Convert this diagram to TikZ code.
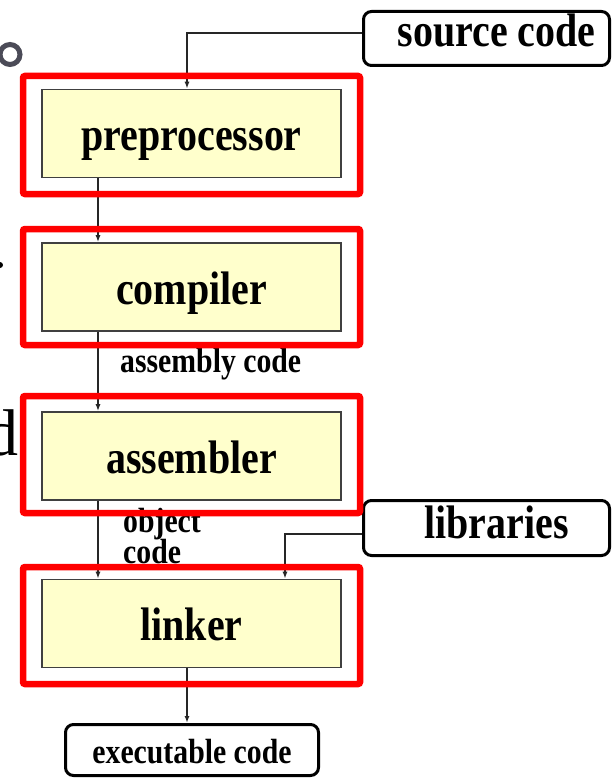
\documentclass[tikz,border=0pt]{standalone}
\usepackage{fontspec}
\setmainfont{Liberation Serif}
\usepackage{graphicx}
\usetikzlibrary{arrows.meta}
\definecolor{stagefill}{HTML}{FFFFCC}
\definecolor{fraggray}{HTML}{4B4B57}
\definecolor{framered}{HTML}{FF0000}
\newcommand{\narrowtxt}[1]{\scalebox{0.85}[1]{#1}}
\begin{document}
\begin{tikzpicture}[x=1pt,y=-1pt,
  big/.style={font=\bfseries\fontsize{47}{50}\selectfont},
  small/.style={font=\bfseries\fontsize{35}{38}\selectfont, inner sep=0pt},
  stage/.style={draw=black!75, line width=1.6pt, fill=stagefill,
    minimum width=299pt, minimum height=88pt, inner sep=0pt,
    text height=34pt, text depth=0pt, big},
  term/.style={draw=black, line width=3pt, rounded corners=8pt, fill=white,
    inner sep=0pt, big},
  frame/.style={draw=framered, line width=6.5pt, rounded corners=2pt},
  conn/.style={draw=black!85, line width=1.4pt, -{Latex[length=7pt,width=5pt]}},
]
\useasboundingbox (0,0) rectangle (613,778);
\clip (0,0) rectangle (613,778);
\fill[white] (0,0) rectangle (613,778);

% fragments of background slide text at the left edge
\draw[fraggray, line width=5pt] (10,54.5) circle (10pt);
\fill[black] (0,265) circle (3pt);
\node[anchor=base east, inner sep=0pt, font=\fontsize{66}{66}\selectfont] (dfrag) at (19,455) {d};

% stages
\node[stage] (pre)  at (191.5,133.5) {\narrowtxt{preprocessor}};
\node[stage] (comp) at (191.5,287)   {\narrowtxt{compiler}};
\node[stage] (asm)  at (191.5,456)   {\narrowtxt{assembler}};
\node[stage] (link) at (191.5,623.5) {\narrowtxt{linker}};

% terminals
\node[term, minimum width=246pt, minimum height=54pt, text height=17pt, text depth=0pt]
  (src) at (486.5,38.5) {\hspace{20pt}\narrowtxt{source code}};
\node[term, minimum width=246pt, minimum height=55pt, text height=20pt, text depth=0pt]
  (lib) at (486.5,528) {\hspace{20pt}\narrowtxt{libraries}};
\node[term, minimum width=253pt, minimum height=51pt, text height=26pt, text depth=0pt,
  font=\bfseries\fontsize{35}{38}\selectfont]
  (exe) at (192,750) {\narrowtxt{executable code}};

% labels
\node[small, anchor=base west] (lasm) at (120,372) {\narrowtxt{assembly code}};
\node[small, anchor=base west] (lobj) at (123,532) {\narrowtxt{object}};
\node[small, anchor=base west] (lcode) at (123,563) {\narrowtxt{code}};

% connectors
\coordinate (lx) at (98,0);
\coordinate (rx) at (285,0);
\coordinate (cx) at (187,0);
\draw[conn] ([yshift=5.5pt]src.west) -| (pre.north -| cx);
\draw[conn] (pre.south -| lx) -- (comp.north -| lx);
\draw[conn] (comp.south -| lx) -- (asm.north -| lx);
\draw[conn] (asm.south -| lx) -- (link.north -| lx);
\draw[conn] ([yshift=-6pt]lib.west) -| (link.north -| rx);
\draw[conn] (link.south -| cx) -- (exe.north -| cx);

% red highlight frames
\draw[frame] (23,76) rectangle (360,194);
\draw[frame] (23,229) rectangle (360,345);
\draw[frame] (23,396) rectangle (360,513);
\draw[frame] (23,567) rectangle (360,684);
\end{tikzpicture}
\end{document}
